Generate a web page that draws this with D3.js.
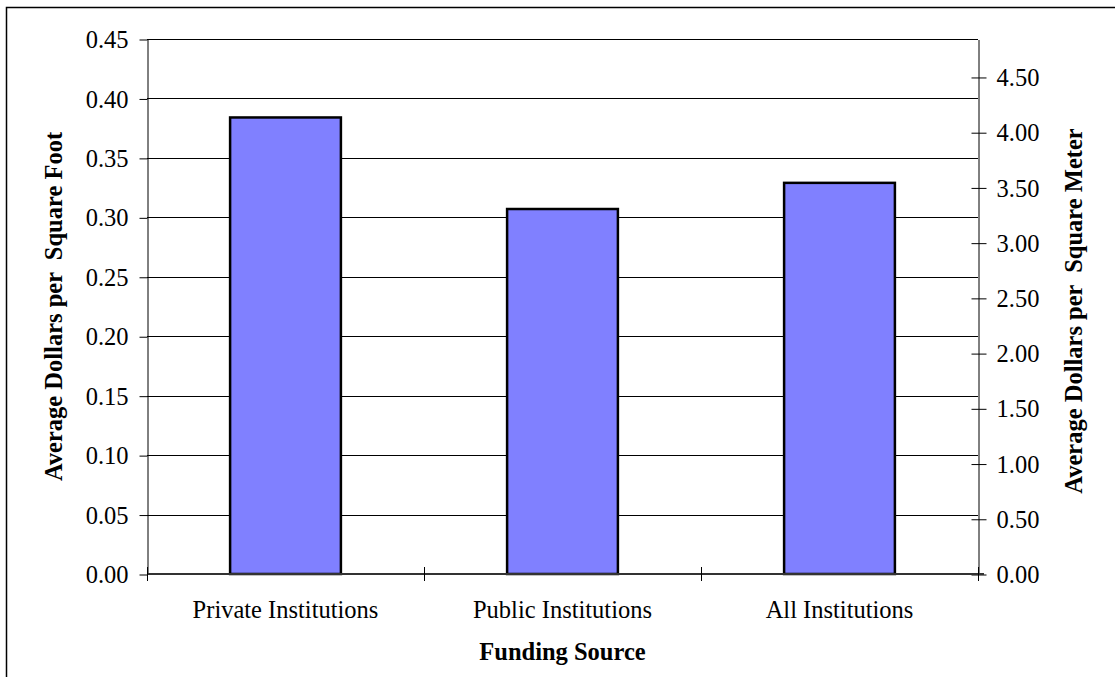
<!DOCTYPE html>
<html>
<head>
<meta charset="utf-8">
<script src="https://cdn.jsdelivr.net/npm/d3@7/dist/d3.min.js"></script>
<style>
  html, body { margin: 0; padding: 0; background: #fff; }
  svg { display: block; }
  text { font-family: "Liberation Serif", "Times New Roman", serif; fill: #000; }
</style>
</head>
<body>
<svg id="chart" width="1115" height="677"></svg>
<script>
// Funding sources and their average cost per square foot (USD)
const categories = ["Private Institutions", "Public Institutions", "All Institutions"];
const dollarsPerSqFt = [0.384, 0.307, 0.329];
const leftTicks = [0, 0.05, 0.10, 0.15, 0.20, 0.25, 0.30, 0.35, 0.40, 0.45];
const rightTicks = [0, 0.5, 1.0, 1.5, 2.0, 2.5, 3.0, 3.5, 4.0, 4.5];
const SQFT_PER_SQM = 10.7639;

const svg = d3.select("#chart");
const plotL = 147, plotR = 978, plotT = 39, plotB = 574;
const FS = 24.5;

const x = d3.scaleBand().domain(categories).range([plotL, plotR]).padding(0);
const y = d3.scaleLinear().domain([0, 0.45]).range([plotB, plotT]);
const y2 = d3.scaleLinear().domain([0, 0.45 * SQFT_PER_SQM]).range([plotB, plotT]);

// outer frame
svg.append("path")
  .attr("d", `M6.5,${677 + 5} V7.5 H${1115 + 5}`)
  .attr("fill", "none").attr("stroke", "#000").attr("stroke-width", 1.5);

// horizontal gridlines
svg.append("g").selectAll("line")
  .data(leftTicks.filter(d => d > 0))
  .join("line")
  .attr("x1", plotL).attr("x2", plotR)
  .attr("y1", d => Math.round(y(d)) + 0.5).attr("y2", d => Math.round(y(d)) + 0.5)
  .attr("stroke", "#000").attr("stroke-width", 1);

// bars
const barFrac = 0.4;
svg.append("g").selectAll("rect")
  .data(categories.map((c, i) => ({ c, v: dollarsPerSqFt[i] })))
  .join("rect")
  .attr("x", d => x(d.c) + x.bandwidth() * (1 - barFrac) / 2)
  .attr("width", x.bandwidth() * barFrac)
  .attr("y", d => y(d.v))
  .attr("height", d => y(0) - y(d.v))
  .attr("fill", "#8080FF")
  .attr("stroke", "#000")
  .attr("stroke-width", 2.5);

// left axis
const leftAxis = d3.axisLeft(y).tickValues(leftTicks).tickFormat(d3.format(".2f"))
  .tickSize(8).tickSizeOuter(0).tickPadding(11);
const gL = svg.append("g").attr("transform", `translate(${plotL + 0.5},0.5)`).call(leftAxis);
gL.select(".domain").attr("stroke", "#000");
gL.selectAll(".tick line").attr("stroke", "#000");
gL.selectAll(".tick text").attr("font-size", FS).attr("dy", "0.33em").attr("fill", "#000");

// right axis (per square meter)
const rightAxis = d3.axisRight(y2).tickValues(rightTicks).tickFormat(d3.format(".2f"))
  .tickSize(8).tickSizeOuter(0).tickPadding(10);
const gR = svg.append("g").attr("transform", `translate(${plotR + 0.5},0.5)`).call(rightAxis);
gR.select(".domain").attr("stroke", "#000");
gR.selectAll(".tick line").attr("stroke", "#000").attr("x1", -7);
gR.selectAll(".tick text").attr("font-size", FS).attr("dy", "0.33em").attr("fill", "#000");

// category axis
svg.append("line")
  .attr("x1", plotL).attr("x2", plotR + 6)
  .attr("y1", plotB).attr("y2", plotB)
  .attr("stroke", "#333").attr("stroke-width", 2);
const boundaries = [plotL, ...categories.map(c => x(c) + x.bandwidth())];
svg.append("g").selectAll("line")
  .data(boundaries)
  .join("line")
  .attr("x1", d => Math.round(d) + 0.5).attr("x2", d => Math.round(d) + 0.5)
  .attr("y1", plotB - 7).attr("y2", plotB + 7)
  .attr("stroke", "#000");
svg.append("g").selectAll("text")
  .data(categories)
  .join("text")
  .attr("x", d => x(d) + x.bandwidth() / 2)
  .attr("y", 618)
  .attr("text-anchor", "middle")
  .attr("font-size", FS)
  .text(d => d);

// axis titles
svg.append("text")
  .attr("x", (plotL + plotR) / 2).attr("y", 660)
  .attr("text-anchor", "middle").attr("font-size", FS).attr("font-weight", "bold")
  .text("Funding Source");

svg.append("text")
  .attr("transform", `translate(62,${(plotT + plotB) / 2}) rotate(-90)`)
  .attr("text-anchor", "middle").attr("font-size", FS).attr("font-weight", "bold")
  .style("white-space", "pre")
  .text("Average Dollars per  Square Foot");

svg.append("text")
  .attr("transform", `translate(1082,311) rotate(-90)`)
  .attr("text-anchor", "middle").attr("font-size", FS).attr("font-weight", "bold")
  .style("white-space", "pre")
  .text("Average Dollars per  Square Meter");
</script>
</body>
</html>
